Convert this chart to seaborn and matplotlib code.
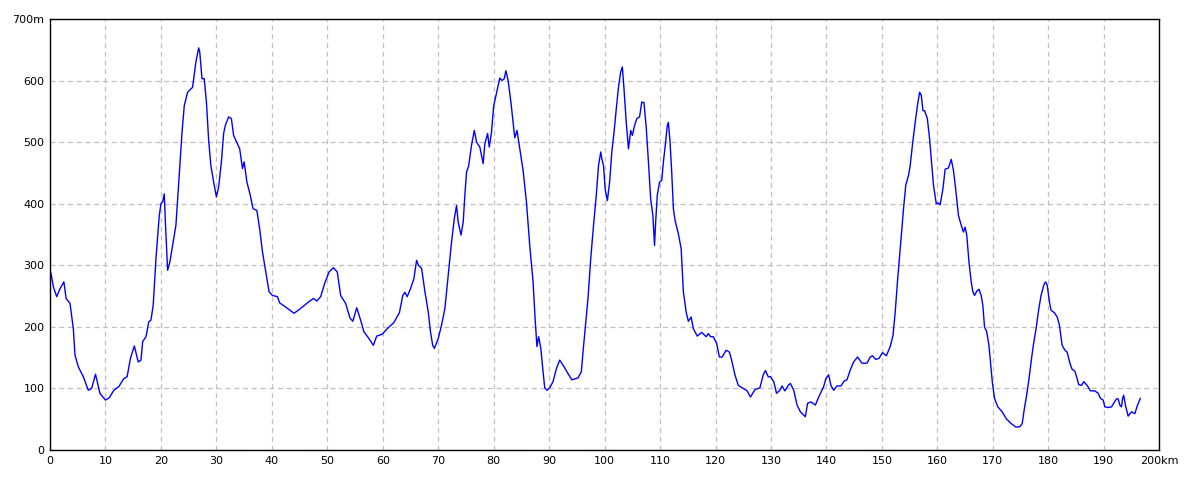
import matplotlib
matplotlib.use('Agg')
import matplotlib.pyplot as plt
import seaborn as sns
import pandas as pd

# distance along the route (km) and elevation (m)
km = [0.0, 0.2, 0.6, 1.2, 1.8, 2.5, 2.9, 3.6, 4.2, 4.5, 5.1, 6.0, 6.9, 7.5, 8.2, 9.0,
      10.0, 10.7, 11.5, 12.4, 13.3, 13.9, 14.5, 15.2, 15.9, 16.4, 16.7, 17.3, 17.8, 18.2,
      18.6, 19.1, 19.7, 20.0, 20.3, 20.6, 20.8, 21.2, 21.6, 22.1, 22.7, 23.3, 23.8, 24.2,
      24.8, 25.7, 26.3, 26.8, 27.0, 27.4, 27.8, 28.2, 28.6, 29.0, 29.5, 30.0, 30.4, 30.9,
      31.3, 31.6, 32.2, 32.7, 33.1, 34.2, 34.7, 35.0, 35.5, 36.1, 36.6, 37.3, 37.8, 38.3,
      38.9, 39.5, 40.1, 41.0, 41.4, 42.5, 44.0, 45.2, 46.7, 47.5, 48.1, 48.8, 49.5, 50.3,
      51.1, 51.8, 52.4, 53.3, 54.1, 54.6, 55.3, 56.0, 56.6, 57.5, 58.3, 58.9, 59.9, 60.8,
      62.0, 63.0, 63.6, 64.0, 64.4, 65.0, 65.6, 66.1, 66.4, 67.0, 67.6, 68.2, 68.6, 69.0,
      69.3, 70.0, 70.6, 71.2, 71.8, 72.4, 72.9, 73.3, 73.6, 74.1, 74.5, 74.8, 75.1, 75.5,
      76.0, 76.5, 76.9, 77.5, 78.1, 78.4, 78.9, 79.2, 79.6, 80.0, 80.6, 81.1, 81.5, 81.9,
      82.2, 82.6, 83.1, 83.5, 83.8, 84.2, 84.7, 85.3, 85.9, 86.5, 87.1, 87.5, 87.8, 88.1,
      88.5, 88.9, 89.2, 89.6, 90.1, 90.7, 91.3, 91.9, 92.7, 93.4, 94.1, 95.2, 95.8, 96.1,
      96.5, 97.0, 97.5, 98.0, 98.5, 98.9, 99.3, 99.5, 99.8, 100.1, 100.5, 100.9, 101.3,
      101.7, 102.1, 102.5, 102.9, 103.2, 103.5, 103.9, 104.3, 104.7, 105.0, 105.4, 105.8,
      106.3, 106.7, 107.1, 107.5, 107.9, 108.3, 108.7, 109.0, 109.2, 109.5, 109.9, 110.3,
      110.6, 111.0, 111.3, 111.5, 111.8, 112.1, 112.4, 112.7, 113.3, 113.8, 114.2, 114.7,
      115.1, 115.6, 116.0, 116.7, 117.5, 118.3, 118.7, 119.1, 119.6, 120.2, 120.7, 121.2,
      121.9, 122.5, 122.9, 123.5, 124.1, 125.0, 125.7, 126.3, 127.1, 128.0, 128.6, 129.0,
      129.5, 129.9, 130.5, 131.0, 131.6, 132.0, 132.5, 133.2, 133.5, 134.1, 134.7, 135.3,
      136.2, 136.6, 137.2, 138.0, 138.6, 139.5, 139.9, 140.4, 140.8, 141.3, 141.9, 142.6,
      143.2, 143.7, 144.3, 144.9, 145.6, 146.4, 147.3, 147.9, 148.3, 148.9, 149.5, 150.1,
      150.8, 151.5, 152.0, 152.4, 152.8, 153.2, 153.6, 153.9, 154.3, 154.8, 155.1, 155.5,
      156.0, 156.4, 156.8, 157.1, 157.4, 157.7, 158.2, 158.6, 159.0, 159.3, 159.8, 160.2,
      160.5, 161.0, 161.4, 162.0, 162.5, 162.9, 163.3, 163.8, 164.3, 164.7, 165.0, 165.3,
      165.7, 166.1, 166.4, 166.7, 167.1, 167.5, 167.9, 168.2, 168.5, 168.9, 169.3, 169.6,
      169.9, 170.3, 170.9, 171.7, 172.4, 173.3, 174.2, 174.9, 175.3, 175.7, 176.1, 176.5,
      176.9, 177.3, 177.8, 178.3, 178.7, 179.2, 179.5, 179.8, 180.2, 180.5, 181.1, 181.6,
      182.0, 182.5, 183.0, 183.4, 183.9, 184.3, 184.8, 185.2, 185.5, 186.0, 186.4, 187.0,
      187.6, 188.4, 189.0, 189.4, 189.9, 190.2, 190.8, 191.4, 191.8, 192.3, 192.6, 192.9,
      193.2, 193.4, 193.6, 193.9, 194.4, 195.0, 195.6, 196.1, 196.6]
elev = [290, 286, 265, 249, 262, 273, 246, 238, 197, 154, 135, 119, 97, 100, 123, 92,
        81, 85, 97, 103, 116, 119, 149, 169, 143, 146, 176, 184, 208, 211,
        235, 311, 381, 400, 403, 416, 370, 292, 305, 332, 365, 446, 516, 559,
        581, 589, 630, 653, 646, 603, 603, 565, 503, 462, 435, 411, 427, 468,
        514, 527, 541, 538, 511, 489, 457, 468, 435, 414, 392, 389, 359, 322,
        289, 257, 251, 249, 239, 232, 222, 230, 241, 246, 242, 249, 270, 289,
        296, 289, 251, 238, 214, 209, 231, 211, 192, 181, 170, 185, 188, 197,
        207, 223, 251, 256, 249, 262, 278, 308, 300, 295, 257, 224, 192, 170,
        165, 181, 203, 230, 284, 338, 376, 397, 370, 349, 370, 414, 451, 462,
        495, 519, 500, 492, 465, 497, 514, 492, 516, 559, 584, 604, 600, 603,
        616, 600, 565, 532, 507, 519, 489, 454, 403, 332, 273, 208, 168, 184,
        165, 127, 101, 97, 101, 111, 132, 146, 135, 124, 114, 117, 127, 159,
        197, 246, 311, 365, 414, 462, 484, 473, 462, 424, 405, 435, 484,
        516, 554, 589, 614, 622, 586, 532, 489, 519, 511, 527, 538,
        541, 565, 564, 524, 468, 408, 381, 332, 370, 414, 435, 438,
        468, 500, 527, 532, 500, 451, 392, 373, 351, 327, 257, 224,
        209, 216, 197, 185, 191, 184, 189, 184, 184, 173, 151, 151,
        162, 159, 146, 122, 105, 100, 96, 86, 98, 101, 122, 129,
        119, 119, 111, 92, 97, 104, 96, 106, 108, 97, 73, 62,
        54, 76, 78, 73, 86, 103, 116, 122, 105, 97, 104, 104,
        112, 114, 130, 143, 151, 141, 141, 151, 153, 147, 149, 158,
        153, 168, 186, 224, 273, 316, 359, 392, 430, 446, 462, 495,
        532, 559, 581, 576, 551, 551, 538, 505, 462, 430, 400, 401,
        398, 424, 456, 458, 472, 454, 424, 381, 365, 354, 362, 349,
        305, 273, 257, 251, 258, 261, 251, 235, 200, 192, 170, 141,
        111, 84, 70, 62, 51, 43, 37, 38, 43, 68, 89, 114,
        143, 170, 197, 230, 251, 268, 273, 268, 241, 227, 223, 216,
        203, 170, 162, 159, 141, 131, 128, 116, 106, 105, 111, 105,
        96, 96, 92, 84, 81, 70, 69, 70, 76, 83, 83, 73,
        70, 84, 89, 73, 55, 62, 59, 73, 84]

x_ticks = list(range(0, 201, 10))
x_labels = [str(v) for v in x_ticks[:-1]] + ['200km']
y_ticks = list(range(0, 701, 100))
y_labels = [str(v) for v in y_ticks[:-1]] + ['700m']

df = pd.DataFrame({'km': km, 'elev': elev})

sns.set_style('white')
plt.rcParams['font.family'] = ['DejaVu Sans']

fig = plt.figure(figsize=(12, 4.8), dpi=100)
ax = fig.add_axes([0.0417, 0.0625, 0.9243, 0.898])

sns.lineplot(data=df, x='km', y='elev', ax=ax, color='#0000ff', linewidth=1.0,
             estimator=None, sort=False)

ax.set_xlim(0, 200)
ax.set_ylim(0, 700)
ax.set_xticks(x_ticks)
ax.set_xticklabels(x_labels)
ax.set_yticks(y_ticks)
ax.set_yticklabels(y_labels)
ax.tick_params(axis='both', length=0, labelsize=8, colors='black', pad=4)
ax.set_xlabel('')
ax.set_ylabel('')

ax.grid(True, color='#c0c0c0', linestyle=(0, (4, 3)), linewidth=0.9)
ax.set_axisbelow(True)
for s in ax.spines.values():
    s.set_visible(True)
    s.set_color('black')
    s.set_linewidth(1.0)

fig.savefig('out.png', dpi=100, facecolor='white')
